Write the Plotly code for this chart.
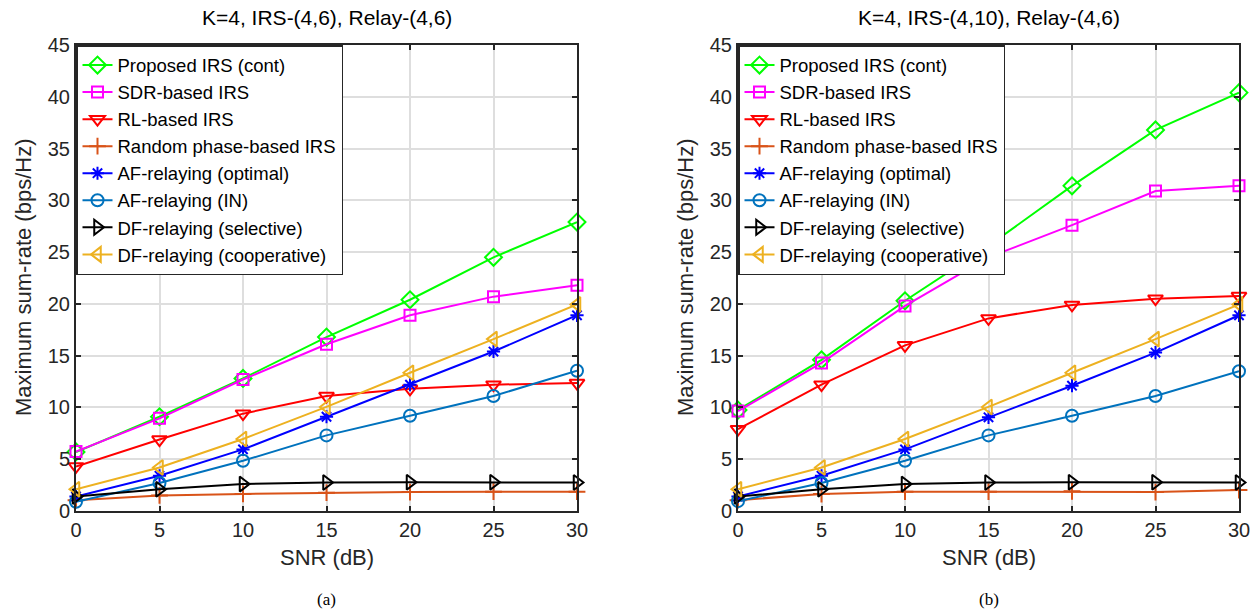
import plotly.graph_objects as go

snr = [0, 5, 10, 15, 20, 25, 30]

names = ["Proposed IRS (cont)", "SDR-based IRS", "RL-based IRS", "Random phase-based IRS",
         "AF-relaying (optimal)", "AF-relaying (IN)", "DF-relaying (selective)",
         "DF-relaying (cooperative)"]

# Panel (a): K=4, IRS-(4,6), Relay-(4,6)
a_proposed = [5.7, 9.1, 12.8, 16.8, 20.4, 24.5, 27.9]
a_sdr = [5.75, 8.95, 12.7, 16.1, 18.9, 20.7, 21.8]
a_rl = [4.3, 6.9, 9.4, 11.1, 11.8, 12.2, 12.35]
a_random = [1.05, 1.5, 1.65, 1.77, 1.83, 1.87, 1.87]
a_af_opt = [1.4, 3.4, 5.95, 9.1, 12.2, 15.4, 18.9]
a_af_in = [0.9, 2.7, 4.85, 7.3, 9.2, 11.1, 13.55]
a_df_sel = [1.4, 2.1, 2.6, 2.75, 2.77, 2.77, 2.75]
a_df_coop = [2.1, 4.2, 6.95, 10.05, 13.35, 16.6, 19.95]

# Panel (b): K=4, IRS-(4,10), Relay-(4,6)
b_proposed = [9.75, 14.6, 20.3, 25.6, 31.4, 36.8, 40.4]
b_sdr = [9.65, 14.3, 19.8, 24.5, 27.6, 30.9, 31.4]
b_rl = [7.9, 12.2, 16.0, 18.6, 19.9, 20.5, 20.75]
b_random = [1.05, 1.64, 1.87, 1.87, 1.9, 1.83, 2.03]
b_af_opt = [1.4, 3.4, 5.95, 9.05, 12.1, 15.3, 18.9]
b_af_in = [0.95, 2.7, 4.85, 7.3, 9.2, 11.1, 13.5]
b_df_sel = [1.4, 2.1, 2.6, 2.75, 2.77, 2.77, 2.75]
b_df_coop = [2.1, 4.2, 6.95, 10.05, 13.35, 16.6, 19.95]

titles = ["K=4, IRS-(4,6), Relay-(4,6)", "K=4, IRS-(4,10), Relay-(4,6)"]
panel_labels = ["(a)", "(b)"]
x_ticks = [0, 5, 10, 15, 20, 25, 30]
y_ticks = [0, 5, 10, 15, 20, 25, 30, 35, 40, 45]

colors = ["#00FF00", "#FF00FF", "#FF0000", "#D95319", "#0000FF", "#0072BD", "#000000", "#EDB120"]
symbols = ["diamond-open", "square-open", "triangle-down-open", "cross-thin-open",
           "asterisk-open", "circle-open", "triangle-right-open", "triangle-left-open"]
sizes = [13, 11, 13, 12, 11, 12, 13, 13]

panels = [
    [a_proposed, a_sdr, a_rl, a_random, a_af_opt, a_af_in, a_df_sel, a_df_coop],
    [b_proposed, b_sdr, b_rl, b_random, b_af_opt, b_af_in, b_df_sel, b_df_coop],
]

W, H = 1253, 609
x_doms = [(76 / W, 577 / W), (738 / W, 1239 / W)]
y_dom = (1 - 511 / H, 1 - 45 / H)

fig = go.Figure()
font_family = "Liberation Sans, Arial, sans-serif"

for p, series in enumerate(panels):
    xa = "x" if p == 0 else "x2"
    ya = "y" if p == 0 else "y2"
    leg = "legend" if p == 0 else "legend2"
    for i, vals in enumerate(series):
        fig.add_trace(go.Scatter(
            x=snr, y=vals, name=names[i], mode="lines+markers",
            xaxis=xa, yaxis=ya, legend=leg, cliponaxis=False,
            line=dict(color=colors[i], width=2),
            marker=dict(symbol=symbols[i], size=sizes[i], color=colors[i],
                        line=dict(color=colors[i], width=2)),
        ))

axis_common = dict(
    showgrid=True, gridcolor="#dedede", gridwidth=1.5,
    showline=True, linecolor="#262626", linewidth=2, mirror="allticks",
    ticks="inside", ticklen=5, tickwidth=1.5, tickcolor="#262626",
    tickfont=dict(family=font_family, size=20, color="#262626"),
    zeroline=False, automargin=False,
)

layout = dict(
    width=W, height=H, margin=dict(l=0, r=0, t=0, b=0),
    paper_bgcolor="white", plot_bgcolor="white",
    font=dict(family=font_family, color="#262626"),
    showlegend=True,
)
for p in range(2):
    sx = "" if p == 0 else "2"
    layout["xaxis" + sx] = dict(axis_common, domain=list(x_doms[p]), range=[0, 30],
                                tickvals=x_ticks, ticktext=[str(v) for v in x_ticks],
                                anchor="y" + sx)
    layout["yaxis" + sx] = dict(axis_common, domain=list(y_dom), range=[0, 45],
                                tickvals=y_ticks, ticktext=[str(v) for v in y_ticks],
                                anchor="x" + sx)
    layout["legend" + sx] = dict(
        x=x_doms[p][0], y=y_dom[1], xanchor="left", yanchor="top",
        xref="paper", yref="paper",
        bgcolor="white", bordercolor="#262626", borderwidth=1.5,
        font=dict(family=font_family, size=18.5, color="#000000"),
        itemwidth=30, tracegroupgap=0,
    )

fig.update_layout(**layout)

annotations = []
for p in range(2):
    cx = (x_doms[p][0] + x_doms[p][1]) / 2
    annotations.append(dict(text=titles[p], x=cx, y=1 - 18 / H, xref="paper", yref="paper",
                            showarrow=False, xanchor="center", yanchor="middle",
                            font=dict(family=font_family, size=21, color="#000000")))
    annotations.append(dict(text="SNR (dB)", x=cx, y=1 - 557 / H, xref="paper", yref="paper",
                            showarrow=False, xanchor="center", yanchor="middle",
                            font=dict(family=font_family, size=22, color="#262626")))
    annotations.append(dict(text=panel_labels[p], x=cx, y=1 - 599 / H, xref="paper", yref="paper",
                            showarrow=False, xanchor="center", yanchor="middle",
                            font=dict(family="Liberation Serif, Times New Roman, serif", size=17,
                                      color="#000000")))
    ycx = (23 if p == 0 else 685) / W
    annotations.append(dict(text="Maximum sum-rate (bps/Hz)", x=ycx, y=(y_dom[0] + y_dom[1]) / 2,
                            xref="paper", yref="paper", showarrow=False, textangle=-90,
                            xanchor="center", yanchor="middle",
                            font=dict(family=font_family, size=22, color="#262626")))
fig.update_layout(annotations=annotations)

fig.write_html("out.html")
